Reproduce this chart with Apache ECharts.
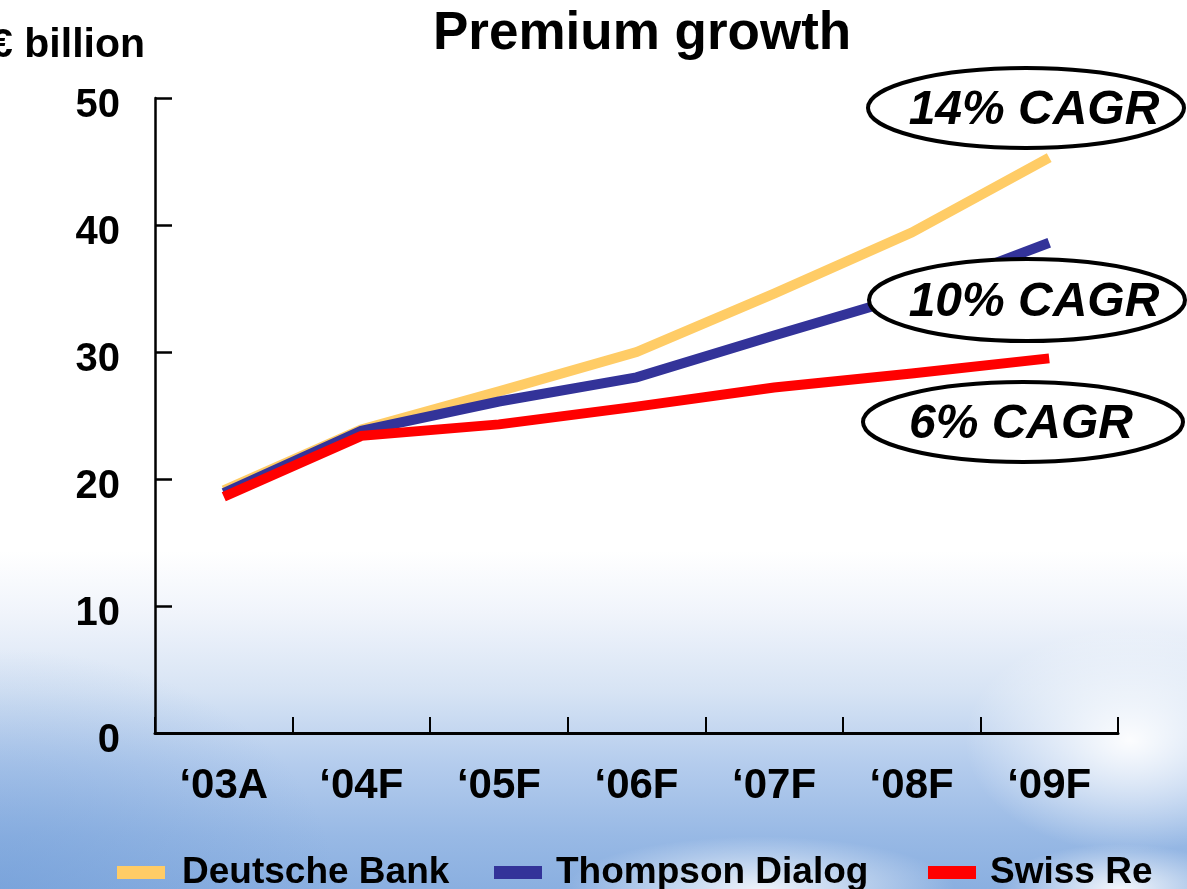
<!DOCTYPE html>
<html>
<head>
<meta charset="utf-8">
<script src="https://cdn.jsdelivr.net/npm/echarts@6/dist/echarts.min.js"></script>
<style>
  html, body { margin: 0; padding: 0; }
  #main {
    width: 1187px; height: 889px;
    background:
      radial-gradient(ellipse 220px 150px at 1130px 740px, rgba(255,255,255,0.95), rgba(255,255,255,0) 75%),
      radial-gradient(ellipse 260px 70px at 760px 889px, rgba(255,255,255,0.85), rgba(255,255,255,0) 75%),
      radial-gradient(ellipse 160px 60px at 1120px 889px, rgba(255,255,255,0.9), rgba(255,255,255,0) 75%),
      radial-gradient(ellipse 420px 300px at 0px 889px, rgba(110,155,215,0.55), rgba(110,155,215,0) 80%),
      linear-gradient(to bottom, #ffffff 0%, #ffffff 62%, #f0f4fb 69%, #d6e3f4 78%, #b4cced 86%, #98b9e5 94%, #8aafe0 100%);
  }
</style>
</head>
<body>
<div id="main"></div>
<script>
const categories = ["\u201803A", "\u201804F", "\u201805F", "\u201806F", "\u201807F", "\u201808F", "\u201809F"];
const deutscheBank = [19.1, 23.9, 26.9, 30.0, 34.6, 39.4, 45.3];
const thompsonDialog = [18.9, 23.8, 26.1, 28.0, 31.3, 34.5, 38.6];
const swissRe = [18.6, 23.4, 24.3, 25.7, 27.2, 28.3, 29.5];
const seriesNames = ["Deutsche Bank", "Thompson Dialog", "Swiss Re"];
const cagrLabels = ["14% CAGR", "10% CAGR", "6% CAGR"];
const yTicks = { min: 0, max: 50, interval: 10 };

const FONT = '"Liberation Sans", Arial, Helvetica, sans-serif';
const colors = ["#FFCC66", "#333399", "#FF0000"];

const chart = echarts.init(document.getElementById('main'), null, { renderer: 'canvas' });

function mkLegend(name, left, padLeft) {
  return {
    data: [name],
    left: left,
    top: 854,
    padding: 0,
    icon: 'rect',
    itemWidth: 48,
    itemHeight: 13,
    textStyle: {
      fontFamily: FONT, fontWeight: 'bold', fontSize: 37, color: '#000',
      padding: [0, 0, 0, padLeft]
    },
    selectedMode: false
  };
}

function ellipseGroup(cx, cy, rx, ry, text, tx) {
  return [
    {
      type: 'ellipse', z: 100,
      shape: { cx: cx, cy: cy, rx: rx, ry: ry },
      style: { fill: '#ffffff', stroke: '#000000', lineWidth: 4 }
    },
    {
      type: 'text', z: 101,
      x: tx, y: cy + 3,
      style: {
        text: text, fill: '#000',
        font: 'italic bold 48px ' + FONT,
        textAlign: 'center', textVerticalAlign: 'middle'
      }
    }
  ];
}

const option = {
  animation: false,
  title: [
    {
      text: 'Premium growth', left: 433, top: 8, padding: 0,
      textStyle: { fontFamily: FONT, fontWeight: 'bold', fontSize: 53, color: '#000' }
    },
    {
      text: '\u20AC billion', right: 1042, top: 25, padding: 0,
      textStyle: { fontFamily: FONT, fontWeight: 'bold', fontSize: 41, color: '#000' }
    }
  ],
  legend: [
    mkLegend(seriesNames[0], 117, 12),
    mkLegend(seriesNames[1], 494, 9),
    mkLegend(seriesNames[2], 928, 9)
  ],
  grid: { left: 155, right: 69, top: 98, bottom: 156, containLabel: false },
  xAxis: {
    type: 'category',
    data: categories,
    boundaryGap: true,
    axisLine: { show: true, lineStyle: { color: '#000', width: 3 } },
    axisTick: { show: true, inside: true, length: 16, lineStyle: { color: '#000', width: 2 } },
    axisLabel: {
      interval: 0, margin: 32, color: '#000',
      fontFamily: FONT, fontWeight: 'bold', fontSize: 42, lineHeight: 42
    },
    splitLine: { show: false }
  },
  yAxis: {
    type: 'value',
    min: yTicks.min, max: yTicks.max, interval: yTicks.interval,
    axisLine: { show: true, lineStyle: { color: '#000', width: 2.5 } },
    axisTick: { show: true, inside: true, length: 17, lineStyle: { color: '#000', width: 2.5 } },
    axisLabel: {
      margin: 35, color: '#000',
      fontFamily: FONT, fontWeight: 'bold', fontSize: 40,
      verticalAlign: 'top', lineHeight: 16
    },
    splitLine: { show: false }
  },
  series: [
    { name: seriesNames[0], type: 'line', data: deutscheBank, symbol: 'none', z: 2,
      itemStyle: { color: colors[0] }, lineStyle: { color: colors[0], width: 10, cap: 'butt', join: 'miter' } },
    { name: seriesNames[1], type: 'line', data: thompsonDialog, symbol: 'none', z: 3,
      itemStyle: { color: colors[1] }, lineStyle: { color: colors[1], width: 10, cap: 'butt', join: 'miter' } },
    { name: seriesNames[2], type: 'line', data: swissRe, symbol: 'none', z: 4,
      itemStyle: { color: colors[2] }, lineStyle: { color: colors[2], width: 10, cap: 'butt', join: 'miter' } }
  ],
  graphic: [].concat(
    ellipseGroup(1026, 108, 158, 40, cagrLabels[0], 1034),
    ellipseGroup(1027, 300, 158, 41, cagrLabels[1], 1034),
    ellipseGroup(1023, 422, 160, 40, cagrLabels[2], 1021)
  )
};

chart.setOption(option);
</script>
</body>
</html>
